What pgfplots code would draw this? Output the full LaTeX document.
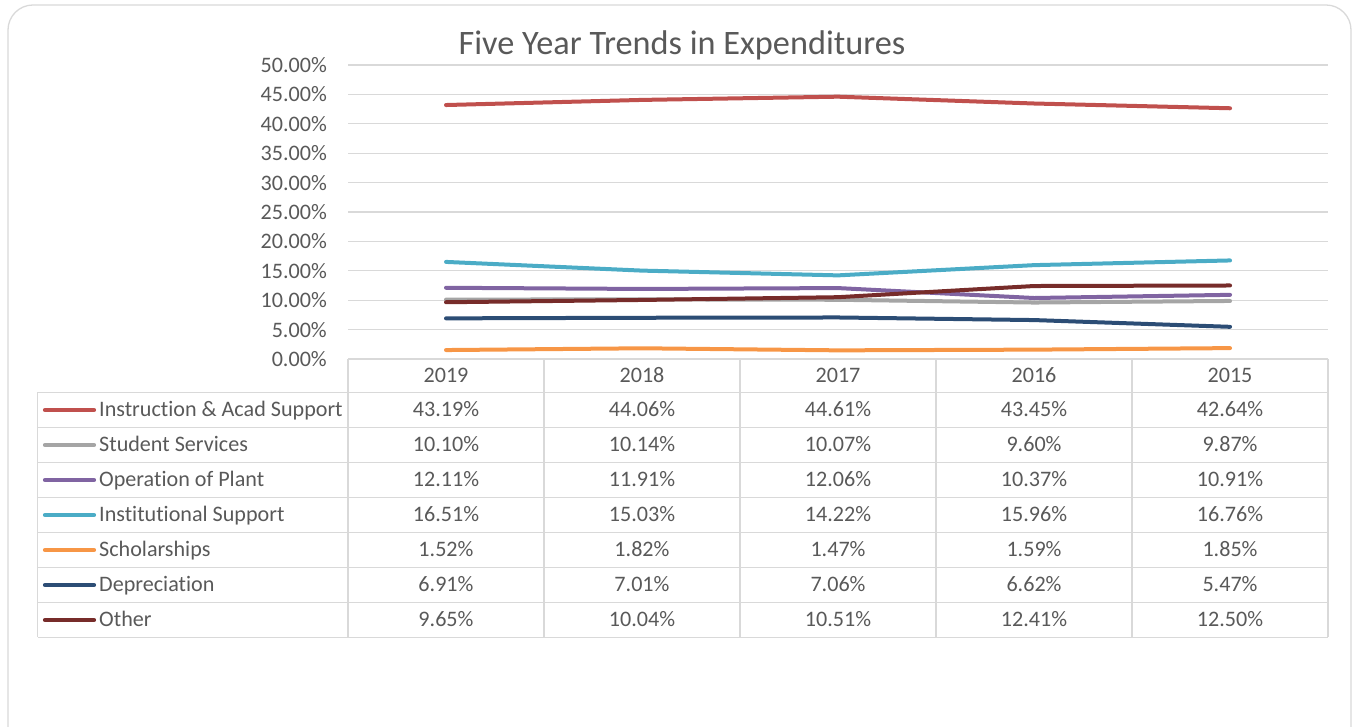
\documentclass[border=0pt]{standalone}
\usepackage{fontspec}
\setmainfont{Carlito}[Ligatures={NoCommon}]
\usepackage{pgfplots}
\pgfplotsset{compat=1.18}
\definecolor{txt}{HTML}{595959}
\definecolor{grd}{HTML}{D9D9D9}
\definecolor{cA}{HTML}{C0504D}
\definecolor{cB}{HTML}{A5A5A5}
\definecolor{cC}{HTML}{8064A2}
\definecolor{cD}{HTML}{4BACC6}
\definecolor{cE}{HTML}{F79646}
\definecolor{cF}{HTML}{2C4D75}
\definecolor{cG}{HTML}{772C2A}
\newcommand{\tf}{\fontsize{22.2}{26}\selectfont}
\tikzset{cell/.style={text=txt, font=\tf, inner sep=0pt, anchor=base}}
\newcommand{\trow}[8]{%
  \draw[#2, line width=4.2bp, line cap=round] (45,{726-#1}) -- (94,{726-#1});
  \node[cell, anchor=base west] at (99,{726-#1-6.5}) {#3};
  \node[cell] at (446,{726-#1-6.5}) {#4};
  \node[cell] at (642,{726-#1-6.5}) {#5};
  \node[cell] at (838,{726-#1-6.5}) {#6};
  \node[cell] at (1034,{726-#1-6.5}) {#7};
  \node[cell] at (1230,{726-#1-6.5}) {#8};
}
\begin{document}
\begin{tikzpicture}[x=1bp,y=1bp]
\path[use as bounding box] (0,0) rectangle (1356,726);
\begin{scope}
\clip (0,0) rectangle (1356,726);
\draw[grd, line width=1.3bp, rounded corners=25bp] (8,-30) rectangle (1351,721);
\end{scope}
\node[text=txt, font=\fontsize{34.4}{40}\selectfont, anchor=base, inner sep=0pt] at (682,{726-55}) {Five Year Trends in Expenditures};
\begin{axis}[
  at={(348bp,367bp)}, anchor=south west,
  width=980bp, height=294bp, scale only axis,
  xmin=-0.5, xmax=4.5, ymin=0, ymax=50,
  axis line style={draw=none},
  xtick=\empty,
  ytick={0,5,...,50},
  major tick length=0pt,
  ymajorgrids,
  grid style={grd, line width=1.3bp},
  yticklabel={\pgfmathprintnumber[fixed,fixed zerofill,precision=2]{\tick}\%},
  /pgf/number format/assume math mode=true,
  yticklabel style={font=\tf, text=txt, anchor=east, inner sep=0pt, xshift=-21bp},
  clip=false,
]
\addplot[cA, line width=4bp, line cap=round, line join=round] coordinates {(0,43.19)(1,44.06)(2,44.61)(3,43.45)(4,42.64)};
\addplot[cB, line width=4bp, line cap=round, line join=round] coordinates {(0,10.10)(1,10.14)(2,10.07)(3,9.60)(4,9.87)};
\addplot[cC, line width=4bp, line cap=round, line join=round] coordinates {(0,12.11)(1,11.91)(2,12.06)(3,10.37)(4,10.91)};
\addplot[cD, line width=4bp, line cap=round, line join=round] coordinates {(0,16.51)(1,15.03)(2,14.22)(3,15.96)(4,16.76)};
\addplot[cE, line width=4bp, line cap=round, line join=round] coordinates {(0,1.52)(1,1.82)(2,1.47)(3,1.59)(4,1.85)};
\addplot[cF, line width=4bp, line cap=round, line join=round] coordinates {(0,6.91)(1,7.01)(2,7.06)(3,6.62)(4,5.47)};
\addplot[cG, line width=4bp, line cap=round, line join=round] coordinates {(0,9.65)(1,10.04)(2,10.51)(3,12.41)(4,12.50)};
\end{axis}
% table grid
\begin{scope}[grd, line width=1.5bp]
\draw (348,{726-359}) -- (1328,{726-359});
\foreach \yy in {392.5,427.5,462.5,497.5,532.5,567.5,602.5,637.5} {\draw (37.5,{726-\yy}) -- (1328,{726-\yy});}
\foreach \xx in {348,544,740,936,1132,1328} {\draw (\xx,{726-359}) -- (\xx,{726-637.5});}
\draw (37.5,{726-392.5}) -- (37.5,{726-637.5});
\end{scope}
\foreach \yr [count=\i from 0] in {2019,2018,2017,2016,2015} {\node[cell] at ({446+196*\i},{726-382.7}) {\yr};}
\trow{410}{cA}{Instruction \& Acad Support}{43.19\%}{44.06\%}{44.61\%}{43.45\%}{42.64\%}
\trow{445}{cB}{Student Services}{10.10\%}{10.14\%}{10.07\%}{9.60\%}{9.87\%}
\trow{480}{cC}{Operation of Plant}{12.11\%}{11.91\%}{12.06\%}{10.37\%}{10.91\%}
\trow{515}{cD}{Institutional Support}{16.51\%}{15.03\%}{14.22\%}{15.96\%}{16.76\%}
\trow{550}{cE}{Scholarships}{1.52\%}{1.82\%}{1.47\%}{1.59\%}{1.85\%}
\trow{585}{cF}{Depreciation}{6.91\%}{7.01\%}{7.06\%}{6.62\%}{5.47\%}
\trow{620}{cG}{Other}{9.65\%}{10.04\%}{10.51\%}{12.41\%}{12.50\%}
\end{tikzpicture}
\end{document}
